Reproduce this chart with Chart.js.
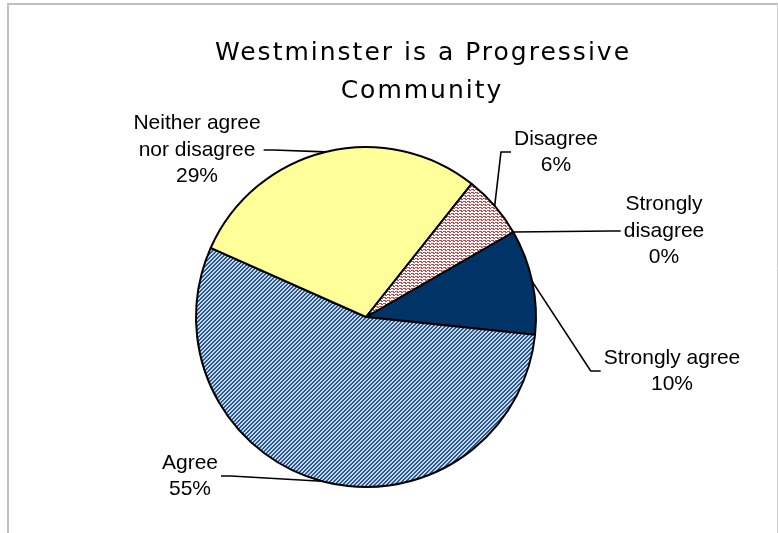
<!DOCTYPE html>
<html>
<head>
<meta charset="utf-8">
<script src="https://cdn.jsdelivr.net/npm/chart.js@4.4.0/dist/chart.umd.min.js"></script>
<style>
  html, body { margin: 0; padding: 0; background: #fff; }
  canvas { display: block; }
</style>
</head>
<body>
<canvas id="chart" width="778" height="533"></canvas>
<script>
var titleLines = ['Westminster is a Progressive', 'Community'];
var categories = ['Strongly agree', 'Agree', 'Neither agree nor disagree', 'Disagree', 'Strongly disagree'];
var percentages = [10, 55, 29, 6, 0];

// label boxes: centre of the text block, which side the leader enters, wrap width
var labelBoxes = [
    { cx: 672, cy: 371, side: 'left',  wrap: 160 },
    { cx: 190, cy: 476, side: 'right', wrap: 100 },
    { cx: 197, cy: 150, side: 'right', wrap: 140 },
    { cx: 556, cy: 152, side: 'left',  wrap: 100 },
    { cx: 664, cy: 231, side: 'left',  wrap: 90 }
];

// tiny repeating tiles for the hatched slices
function makePattern(rows, colors) {
    var c = document.createElement('canvas');
    c.width = rows[0].length;
    c.height = rows.length;
    var g = c.getContext('2d');
    for (var y = 0; y < rows.length; y++) {
        for (var x = 0; x < rows[y].length; x++) {
            g.fillStyle = colors[rows[y][x]];
            g.fillRect(x, y, 1, 1);
        }
    }
    return g.createPattern(c, 'repeat');
}

var agreeFill = makePattern(
    ['..##', '.##.', '##..', '#..#'],
    { '#': '#2a5890', '.': '#c4d6ea' }
);
var disagreeFill = makePattern(
    ['rr.r', '.rr.', '....'],
    { 'r': '#cc4444', '.': '#ffffff' }
);

var sliceColors = ['#003366', agreeFill, '#ffff99', disagreeFill, '#ff8080'];

function wrapText(ctx, text, maxWidth) {
    var words = text.split(' ');
    var lines = [];
    var cur = '';
    words.forEach(function (w) {
        var test = cur ? cur + ' ' + w : w;
        if (cur && ctx.measureText(test).width > maxWidth) {
            lines.push(cur);
            cur = w;
        } else {
            cur = test;
        }
    });
    if (cur) lines.push(cur);
    return lines;
}

var framePlugin = {
    id: 'frame',
    beforeDraw: function (chart) {
        var ctx = chart.ctx;
        ctx.save();
        ctx.fillStyle = '#ffffff';
        ctx.fillRect(0, 0, chart.width, chart.height);
        ctx.strokeStyle = '#c0c0c0';
        ctx.lineWidth = 2;
        ctx.beginPath();
        ctx.moveTo(8, chart.height);
        ctx.lineTo(8, 4);
        ctx.lineTo(chart.width, 4);
        ctx.stroke();
        ctx.lineWidth = 1;
        ctx.strokeStyle = '#d0d0d0';
        ctx.beginPath();
        ctx.moveTo(777.5, 4);
        ctx.lineTo(777.5, chart.height);
        ctx.stroke();

        // title, two centred lines with wide tracking
        ctx.fillStyle = '#000000';
        ctx.font = '25px "DejaVu Sans"';
        ctx.letterSpacing = '2px';
        ctx.textAlign = 'center';
        ctx.textBaseline = 'alphabetic';
        ctx.fillText(titleLines[0], 423, 60);
        ctx.fillText(titleLines[1], 422, 98);
        ctx.restore();
    }
};

var labelPlugin = {
    id: 'sliceLabels',
    afterDatasetsDraw: function (chart) {
        var ctx = chart.ctx;
        var arcs = chart.getDatasetMeta(0).data;
        ctx.save();
        ctx.font = '21px "Liberation Sans", Arial, sans-serif';
        ctx.textAlign = 'center';
        ctx.textBaseline = 'middle';
        var lineH = 26.5;
        arcs.forEach(function (arc, i) {
            var p = arc.getProps(['x', 'y', 'startAngle', 'endAngle', 'outerRadius'], true);
            var mid = (p.startAngle + p.endAngle) / 2;
            var ax = p.x + Math.cos(mid) * p.outerRadius;
            var ay = p.y + Math.sin(mid) * p.outerRadius;
            var box = labelBoxes[i];
            var lines = wrapText(ctx, categories[i], box.wrap);
            lines.push(percentages[i] + '%');
            var maxW = 0;
            lines.forEach(function (l) { maxW = Math.max(maxW, ctx.measureText(l).width); });

            // leader: short stub off the label, then straight to the slice edge
            var ex = box.side === 'left' ? box.cx - maxW / 2 - 3 : box.cx + maxW / 2 + 3;
            var sx = box.side === 'left' ? ex - 10 : ex + 10;
            ctx.strokeStyle = '#000000';
            ctx.lineWidth = 1.6;
            ctx.beginPath();
            ctx.moveTo(ex, box.cy);
            ctx.lineTo(sx, box.cy);
            ctx.lineTo(ax, ay);
            ctx.stroke();

            ctx.fillStyle = '#000000';
            var top = box.cy - (lines.length - 1) * lineH / 2;
            lines.forEach(function (l, k) {
                ctx.fillText(l, box.cx, top + k * lineH);
            });
        });
        ctx.restore();
    }
};

new Chart(document.getElementById('chart'), {
    type: 'pie',
    data: {
        labels: categories,
        datasets: [{
            data: percentages,
            backgroundColor: sliceColors,
            borderColor: '#000000',
            borderWidth: 2,
            hoverOffset: 0,
            radius: 170
        }]
    },
    options: {
        responsive: false,
        animation: false,
        events: [],
        rotation: 60,
        layout: { padding: { left: 196, right: 242, top: 147, bottom: 46 } },
        plugins: {
            legend: { display: false },
            title: { display: false },
            tooltip: { enabled: false }
        }
    },
    plugins: [framePlugin, labelPlugin]
});
</script>
</body>
</html>
